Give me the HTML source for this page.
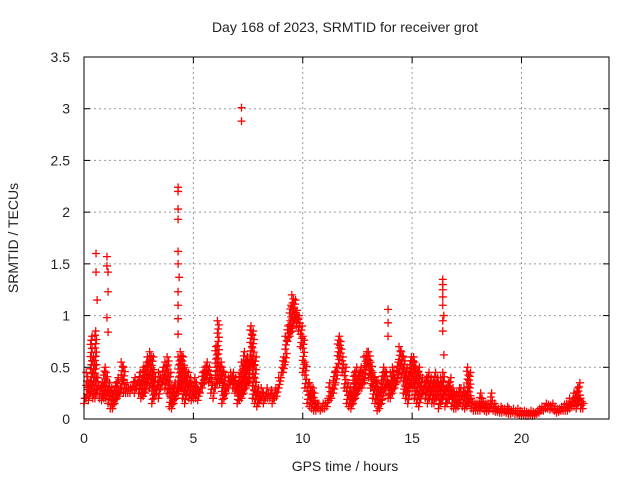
<!DOCTYPE html>
<html><head><meta charset="utf-8"><style>
body{margin:0;background:#fff}
svg text{font-family:"Liberation Sans",sans-serif;font-size:14px;fill:#222}
</style></head><body>
<svg id="chart" width="640" height="480" xmlns="http://www.w3.org/2000/svg">
<text x="345" y="32" text-anchor="middle">Day 168 of 2023, SRMTID for receiver grot</text>
<text x="345" y="471" text-anchor="middle">GPS time / hours</text>
<text x="18" y="238" text-anchor="middle" transform="rotate(-90 18 238)">SRMTID / TECUs</text>
<g id="grid"></g>
<g id="ticks"></g>
<g id="marks"></g>
<rect x="84" y="57" width="525" height="362" fill="none" stroke="#000" stroke-width="1"/>
</svg>
<script>
const xTicks=[0,5,10,15,20];
const yTicks=[0,0.5,1,1.5,2,2.5,3,3.5];
const yTickLabels=["0","0.5","1","1.5","2","2.5","3","3.5"];
const hiVals=[0.2,0.45,0.35,0.8,0.6,0.85,0.4,0.3,0.35,0.5,
0.45,0.35,0.3,0.25,0.35,0.4,0.3,0.55,0.5,0.35,
0.3,0.3,0.35,0.4,0.35,0.45,0.4,0.5,0.55,0.6,
0.65,0.6,0.45,0.35,0.45,0.4,0.5,0.55,0.6,0.45,
0.3,0.35,0.3,0.6,0.65,0.6,0.5,0.45,0.4,0.35,
0.4,0.35,0.3,0.35,0.45,0.5,0.55,0.5,0.4,0.3,
0.7,0.95,0.55,0.5,0.45,0.3,0.4,0.45,0.45,0.4,
0.35,0.45,0.55,0.65,0.6,0.55,0.9,0.85,0.6,0.3,
0.25,0.3,0.25,0.3,0.25,0.28,0.25,0.3,0.3,0.4,
0.5,0.6,0.8,0.9,1.1,1.2,1.15,1.05,1.0,0.9,
0.8,0.55,0.35,0.35,0.3,0.25,0.15,0.15,0.12,0.15,
0.15,0.2,0.35,0.3,0.45,0.5,0.8,0.75,0.6,0.5,
0.35,0.3,0.25,0.45,0.5,0.45,0.5,0.45,0.6,0.65,
0.65,0.55,0.45,0.4,0.35,0.3,0.45,0.5,0.45,0.35,
0.45,0.5,0.4,0.55,0.7,0.65,0.6,0.5,0.45,0.6,
0.6,0.55,0.45,0.5,0.4,0.35,0.4,0.45,0.4,0.35,
0.45,0.4,0.35,0.4,0.45,0.3,0.35,0.4,0.3,0.25,
0.25,0.3,0.3,0.3,0.25,0.5,0.45,0.2,0.15,0.15,
0.15,0.25,0.2,0.15,0.15,0.15,0.25,0.15,0.12,0.1,
0.12,0.1,0.1,0.12,0.1,0.08,0.1,0.08,0.1,0.08,
0.07,0.08,0.07,0.06,0.08,0.07,0.06,0.08,0.1,0.12,
0.12,0.15,0.14,0.13,0.15,0.12,0.1,0.1,0.12,0.14,
0.15,0.15,0.2,0.2,0.25,0.3,0.35,0.2,0.15];
const loVals=[0.15,0.2,0.18,0.25,0.2,0.2,0.25,0.2,0.18,0.2,
0.2,0.15,0.1,0.1,0.15,0.2,0.22,0.3,0.25,0.25,
0.25,0.25,0.28,0.25,0.3,0.25,0.2,0.22,0.25,0.35,
0.3,0.15,0.2,0.25,0.2,0.3,0.35,0.3,0.25,0.12,
0.1,0.15,0.2,0.25,0.3,0.2,0.15,0.25,0.2,0.18,
0.2,0.2,0.18,0.25,0.3,0.35,0.4,0.35,0.25,0.2,
0.3,0.35,0.35,0.15,0.2,0.25,0.3,0.35,0.3,0.25,
0.15,0.18,0.2,0.25,0.3,0.35,0.5,0.2,0.15,0.12,
0.15,0.18,0.15,0.2,0.2,0.2,0.15,0.2,0.22,0.3,
0.4,0.45,0.55,0.75,0.8,0.85,0.95,0.9,0.85,0.7,
0.45,0.3,0.15,0.12,0.1,0.08,0.08,0.1,0.08,0.1,
0.1,0.12,0.18,0.2,0.25,0.35,0.5,0.6,0.45,0.3,
0.15,0.12,0.1,0.15,0.2,0.25,0.3,0.3,0.35,0.5,
0.4,0.3,0.2,0.15,0.08,0.1,0.15,0.25,0.3,0.2,
0.2,0.25,0.3,0.35,0.45,0.4,0.25,0.2,0.15,0.3,
0.3,0.2,0.15,0.12,0.2,0.25,0.2,0.15,0.2,0.15,
0.15,0.2,0.1,0.15,0.2,0.12,0.15,0.2,0.12,0.1,
0.1,0.12,0.15,0.12,0.1,0.12,0.15,0.1,0.08,0.08,
0.08,0.08,0.1,0.08,0.07,0.08,0.1,0.08,0.07,0.07,
0.06,0.06,0.07,0.06,0.05,0.05,0.06,0.05,0.05,0.04,
0.03,0.04,0.03,0.03,0.04,0.03,0.04,0.05,0.06,0.08,
0.08,0.1,0.1,0.09,0.1,0.08,0.06,0.07,0.08,0.08,
0.08,0.08,0.1,0.12,0.12,0.1,0.15,0.1,0.1];
const spikeTimes=[0.55,0.55,0.6,1.05,1.05,1.1,1.1,1.05,1.1,4.3,4.3,4.3,4.3,4.3,4.3,4.35,4.3,4.3,4.3,4.3,7.2,7.2,13.9,13.9,13.9,16.4,16.4,16.4,16.4,16.4,16.45,16.4,16.4,16.45];
const spikeVals=[1.6,1.42,1.15,1.57,1.48,1.42,1.23,0.98,0.84,2.24,2.2,2.03,1.93,1.62,1.5,1.37,1.23,1.1,0.97,0.82,3.01,2.88,1.06,0.93,0.8,1.35,1.3,1.25,1.18,1.1,1.0,0.95,0.85,0.62];
const X0=84,X1=609,Y0=419,Y1=57,XMAX=24,YMAX=3.5;
const sx=t=>X0+t/XMAX*(X1-X0);
const sy=v=>Y0-v/YMAX*(Y0-Y1);
const NS="http://www.w3.org/2000/svg";
const grid=document.getElementById('grid'),ticks=document.getElementById('ticks'),marks=document.getElementById('marks');
function mk(tag,attrs,parent){const e=document.createElementNS(NS,tag);for(const k in attrs)e.setAttribute(k,attrs[k]);parent.appendChild(e);return e;}
xTicks.forEach(t=>{
  const x=sx(t);
  if(t>0){const g=mk('line',{x1:x,x2:x,y1:Y1,y2:Y0,stroke:'#999','stroke-dasharray':'2,3'},grid);
  
  }
  mk('line',{x1:x,x2:x,y1:Y0,y2:Y0-6,stroke:'#000'},ticks);
  mk('line',{x1:x,x2:x,y1:Y1,y2:Y1+6,stroke:'#000'},ticks);
  const l=mk('text',{x:x,y:Y0+24,'text-anchor':'middle'},ticks);l.textContent=t;
  
  
});
yTicks.forEach((v,i)=>{
  const y=sy(v);
  if(v>0&&v<YMAX){const g=mk('line',{x1:X0,x2:X1,y1:y,y2:y,stroke:'#999','stroke-dasharray':'2,3'},grid);
  
  }
  mk('line',{x1:X0,x2:X0+6,y1:y,y2:y,stroke:'#000'},ticks);
  mk('line',{x1:X1,x2:X1-6,y1:y,y2:y,stroke:'#000'},ticks);
  const l=mk('text',{x:X0-14,y:y+5,'text-anchor':'end'},ticks);l.textContent=yTickLabels[i];
  
  
});
function plus(t,v){
  const x=sx(t),y=sy(v);
  const p=mk('path',{d:`M${x-4},${y}H${x+4}M${x},${y-4}V${y+4}`,stroke:'#f00','stroke-width':1.3,fill:'none'},marks);
  
  
}
hiVals.forEach((a,i)=>{
  const b=loVals[i],t=i*0.1;
  const n=Math.max(1,Math.round((a-b)/0.04));
  for(let k=0;k<=n;k++){plus(t+(k%3)*0.035,b+(a-b)*k/n);}
});
spikeTimes.forEach((t,i)=>plus(t,spikeVals[i]));
</script>
</body></html>
